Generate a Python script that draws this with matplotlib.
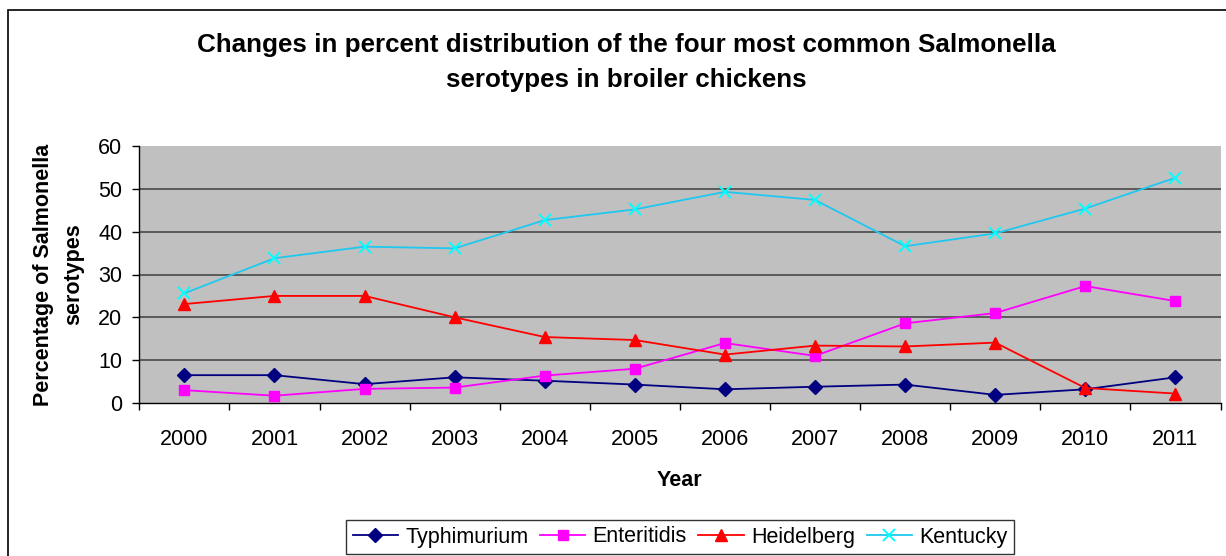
import matplotlib
matplotlib.use("Agg")
import matplotlib.pyplot as plt
from matplotlib.patches import Rectangle
import numpy as np

plt.rcParams['font.family'] = ['Liberation Sans', 'DejaVu Sans']

years = ['2000', '2001', '2002', '2003', '2004', '2005', '2006', '2007', '2008', '2009', '2010', '2011']
typhimurium = [6.5, 6.5, 4.4, 6.0, 5.2, 4.3, 3.2, 3.8, 4.3, 1.9, 3.2, 6.0]
enteritidis = [3.0, 1.7, 3.3, 3.6, 6.4, 8.0, 14.0, 11.0, 18.6, 21.0, 27.3, 23.8]
heidelberg = [23.1, 25.0, 25.0, 20.0, 15.4, 14.7, 11.3, 13.4, 13.2, 14.1, 3.5, 2.2]
kentucky = [25.6, 33.8, 36.5, 36.1, 42.7, 45.2, 49.3, 47.4, 36.6, 39.6, 45.4, 52.6]

W, H = 1226, 556
fig = plt.figure(figsize=(W / 100, H / 100), dpi=100)
fig.patch.set_facecolor('white')

# outer chart border (right and bottom edges fall outside the picture)
fig.patches.append(Rectangle((8 / W, -0.05), 1.1, 1.05 - 10 / H,
                             transform=fig.transFigure, fill=False,
                             edgecolor='black', linewidth=1.2))

L, R, T, B = 139.3, 1220.5, 146, 403
ax = fig.add_axes([L / W, 1 - B / H, (R - L) / W, (B - T) / H])
ax.set_facecolor('#C0C0C0')

FS = 15.5
x = np.arange(len(years))
ax.plot(x, typhimurium, color='#000080', marker='D', markersize=7, lw=1.3, label='Typhimurium', zorder=3)
ax.plot(x, enteritidis, color='#FF00FF', marker='s', markersize=7.5, lw=1.3, label='Enteritidis', zorder=3)
ax.plot(x, heidelberg, color='#FF0000', marker='^', markersize=9, lw=1.3, label='Heidelberg', zorder=3)
ax.plot(x, kentucky, color='#1EC8F0', marker='x', markersize=9, mew=1.4,
        mec='#00FFFF', lw=1.3, label='Kentucky', zorder=3)

ax.set_xlim(-0.5, len(years) - 0.5)
ax.set_ylim(0, 60)
ax.set_yticks(range(0, 61, 10))
ax.set_yticklabels([str(v) for v in range(0, 61, 10)], fontsize=FS)
ax.set_xticks(x)
ax.set_xticklabels(years, fontsize=FS)
ax.set_xticks(np.arange(-0.5, len(years), 1), minor=True)
ax.tick_params(axis='x', which='major', length=0, pad=18.5)
ax.tick_params(axis='x', which='minor', length=5, width=1.0, direction='out')
ax.tick_params(axis='y', length=4.8, width=1.0, direction='out', pad=7.5)

for v in range(10, 60, 10):
    ax.axhline(v, color='#404040', lw=1.1, zorder=1)
for s in ['top', 'right']:
    ax.spines[s].set_visible(False)
for s in ['left', 'bottom']:
    ax.spines[s].set_linewidth(1.0)

ax.set_xlabel('Year', fontsize=FS, fontweight='bold')
ax.xaxis.label.set_va('baseline')
ax.xaxis.set_label_coords(0.5, (B - 486) / (B - T))

# two-line y-axis title
ax.set_ylabel('Percentage of Salmonella', fontsize=FS, fontweight='bold')
ax.yaxis.label.set_va('center')
ax.yaxis.set_label_coords((43.5 - L) / (R - L), 0.5)
ax.text((74 - L) / (R - L), 0.5, 'serotypes', transform=ax.transAxes, rotation=90,
        ha='center', va='center', fontsize=FS, fontweight='bold')

fig.text(626 / W, 1 - 51.7 / H,
         'Changes in percent distribution of the four most common Salmonella',
         ha='center', va='baseline', fontsize=18.7, fontweight='bold')
fig.text(626 / W, 1 - 86.7 / H, 'serotypes in broiler chickens',
         ha='center', va='baseline', fontsize=18.7, fontweight='bold')

leg = fig.legend(loc='center', bbox_to_anchor=(680 / W, 1 - 537 / H), ncol=4,
                 fontsize=FS, frameon=True, fancybox=False, edgecolor='black',
                 handlelength=2.1, handletextpad=0.33, columnspacing=0.55,
                 borderpad=0.3, borderaxespad=0)
leg.get_frame().set_linewidth(1.0)

fig.savefig('out.png', dpi=100)
